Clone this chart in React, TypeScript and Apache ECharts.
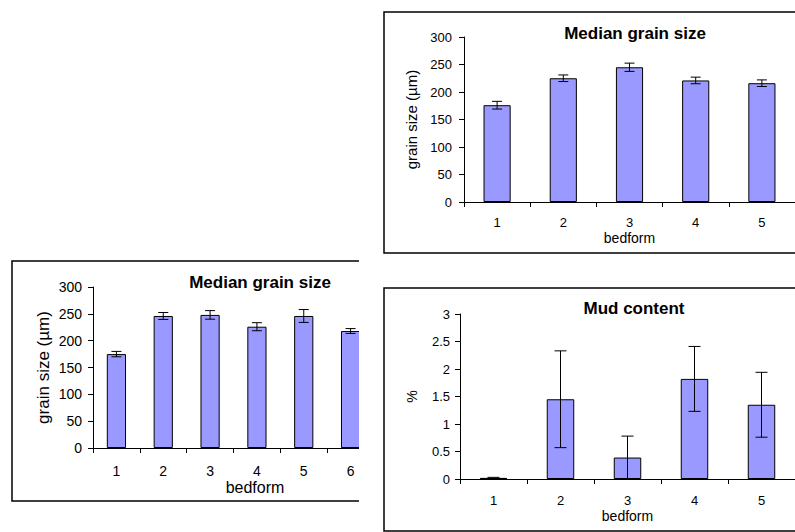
import React, { useEffect, useRef } from "react";
import * as echarts from "echarts";

const FONT = "'Liberation Sans', Arial, sans-serif";

// Top-right panel: Median grain size
const medianCats = ["1", "2", "3", "4", "5"];
const medianValues = [176, 225, 245, 221, 216];
const medianErrors = [7, 6, 7.5, 6, 6];

// Bottom-right panel: Mud content
const mudCats = ["1", "2", "3", "4", "5"];
const mudValues = [0.02, 1.45, 0.39, 1.82, 1.35];
const mudErrors = [0.01, 0.88, 0.39, 0.59, 0.59];

// Left panel: Median grain size (cropped)
const leftCats = ["1", "2", "3", "4", "5", "6"];
const leftValues = [175, 246, 248, 226, 246, 218];
const leftErrors = [5, 6.5, 8, 7.5, 12, 4.5];

const BAR_COLOR = "#9999FF";

function errorSeries(xi: number, values: number[], errors: number[], cap: number) {
  return {
    type: "custom",
    xAxisIndex: xi,
    yAxisIndex: xi,
    z: 5,
    renderItem: (params: any, api: any) => {
      const i = api.value(0);
      const lo = api.coord([i, api.value(1)]);
      const hi = api.coord([i, api.value(2)]);
      const st = { stroke: "#000", lineWidth: 1 };
      return {
        type: "group",
        children: [
          { type: "line", shape: { x1: lo[0], y1: lo[1], x2: hi[0], y2: hi[1] }, style: st },
          { type: "line", shape: { x1: hi[0] - cap, y1: hi[1], x2: hi[0] + cap, y2: hi[1] }, style: st },
          { type: "line", shape: { x1: lo[0] - cap, y1: lo[1], x2: lo[0] + cap, y2: lo[1] }, style: st },
        ],
      };
    },
    encode: { x: 0, y: [1, 2] },
    data: values.map((v, i) => [i, Math.max(0, v - errors[i]), v + errors[i]]),
  };
}

function barSeries(xi: number, values: number[]) {
  return {
    type: "bar",
    xAxisIndex: xi,
    yAxisIndex: xi,
    barWidth: "41%",
    data: values,
    itemStyle: { color: BAR_COLOR, borderColor: "#000", borderWidth: 1 },
  };
}

function xAxisCfg(gi: number, cats: string[], fs: number, margin: number, name: string, nameGap: number, nameFs: number) {
  return {
    type: "category",
    gridIndex: gi,
    data: cats,
    boundaryGap: true,
    axisLine: { show: true, lineStyle: { color: "#000", width: 1 } },
    axisTick: { show: true, length: 5, alignWithLabel: false, lineStyle: { color: "#000" } },
    axisLabel: { color: "#000", fontSize: fs, fontFamily: FONT, margin },
    name,
    nameLocation: "middle",
    nameGap,
    nameTextStyle: { color: "#000", fontSize: nameFs, fontFamily: FONT },
    splitLine: { show: false },
  };
}

function yAxisCfg(gi: number, max: number, interval: number, fs: number, margin: number, name: string, nameGap: number, nameFs: number) {
  return {
    type: "value",
    gridIndex: gi,
    min: 0,
    max,
    interval,
    axisLine: { show: true, lineStyle: { color: "#000", width: 1 } },
    axisTick: { show: true, length: 5, inside: false, lineStyle: { color: "#000" } },
    axisLabel: { color: "#000", fontSize: fs, fontFamily: FONT, margin },
    splitLine: { show: false },
    name,
    nameLocation: "middle",
    nameRotate: 90,
    nameGap,
    nameTextStyle: { color: "#000", fontSize: nameFs, fontFamily: FONT },
  };
}

export default function App() {
  const ref = useRef<HTMLDivElement>(null);
  useEffect(() => {
    if (!ref.current) return;
    const chart = echarts.init(ref.current, null, { renderer: "svg" });
    const option: any = {
      animation: false,
      backgroundColor: "#fff",
      grid: [
        { left: 464, top: 37, width: 331, height: 165 },
        { left: 460, top: 314, width: 335, height: 165 },
        { left: 93, top: 287, width: 281, height: 161 },
      ],
      xAxis: [
        xAxisCfg(0, medianCats, 13, 14, "bedform", 29, 14),
        xAxisCfg(1, mudCats, 13, 15, "bedform", 30, 14),
        xAxisCfg(2, leftCats, 14, 16, "", 30, 16),
      ],
      yAxis: [
        yAxisCfg(0, 300, 50, 13, 12, "grain size (\u00b5m)", 45, 15),
        yAxisCfg(1, 3, 0.5, 13, 10, "%", 41, 14),
        yAxisCfg(2, 300, 50, 14, 11, "grain size (\u00b5m)", 41, 17),
      ],
      series: [
        barSeries(0, medianValues),
        errorSeries(0, medianValues, medianErrors, 5),
        barSeries(1, mudValues),
        errorSeries(1, mudValues, mudErrors, 6),
        barSeries(2, leftValues),
        errorSeries(2, leftValues, leftErrors, 5),
      ],
      graphic: [
        { type: "rect", z: 0, shape: { x: 384, y: 12, width: 430, height: 241 }, style: { fill: "none", stroke: "#000", lineWidth: 1.5 } },
        { type: "rect", z: 0, shape: { x: 384, y: 288, width: 430, height: 243 }, style: { fill: "none", stroke: "#000", lineWidth: 1.5 } },
        { type: "rect", z: 0, shape: { x: 12, y: 261, width: 365, height: 240 }, style: { fill: "none", stroke: "#000", lineWidth: 1.5 } },
        { type: "rect", z: 100, shape: { x: 359, y: 255, width: 24, height: 252 }, style: { fill: "#fff", stroke: "none" } },
        { type: "text", z: 110, x: 635, y: 33, style: { text: "Median grain size", textAlign: "center", textVerticalAlign: "middle", font: `bold 17px ${FONT}`, fill: "#000" } },
        { type: "text", z: 110, x: 634, y: 308, style: { text: "Mud content", textAlign: "center", textVerticalAlign: "middle", font: `bold 17px ${FONT}`, fill: "#000" } },
        { type: "text", z: 110, x: 260, y: 282, style: { text: "Median grain size", textAlign: "center", textVerticalAlign: "middle", font: `bold 17px ${FONT}`, fill: "#000" } },
        { type: "text", z: 110, x: 255, y: 487, style: { text: "bedform", textAlign: "center", textVerticalAlign: "middle", font: `16px ${FONT}`, fill: "#000" } },
      ],
    };
    chart.setOption(option);
    return () => chart.dispose();
  }, []);
  return (
    <div
      ref={ref}
      style={{ position: "fixed", left: 0, top: 0, width: 795, height: 532, background: "#fff" }}
    />
  );
}
